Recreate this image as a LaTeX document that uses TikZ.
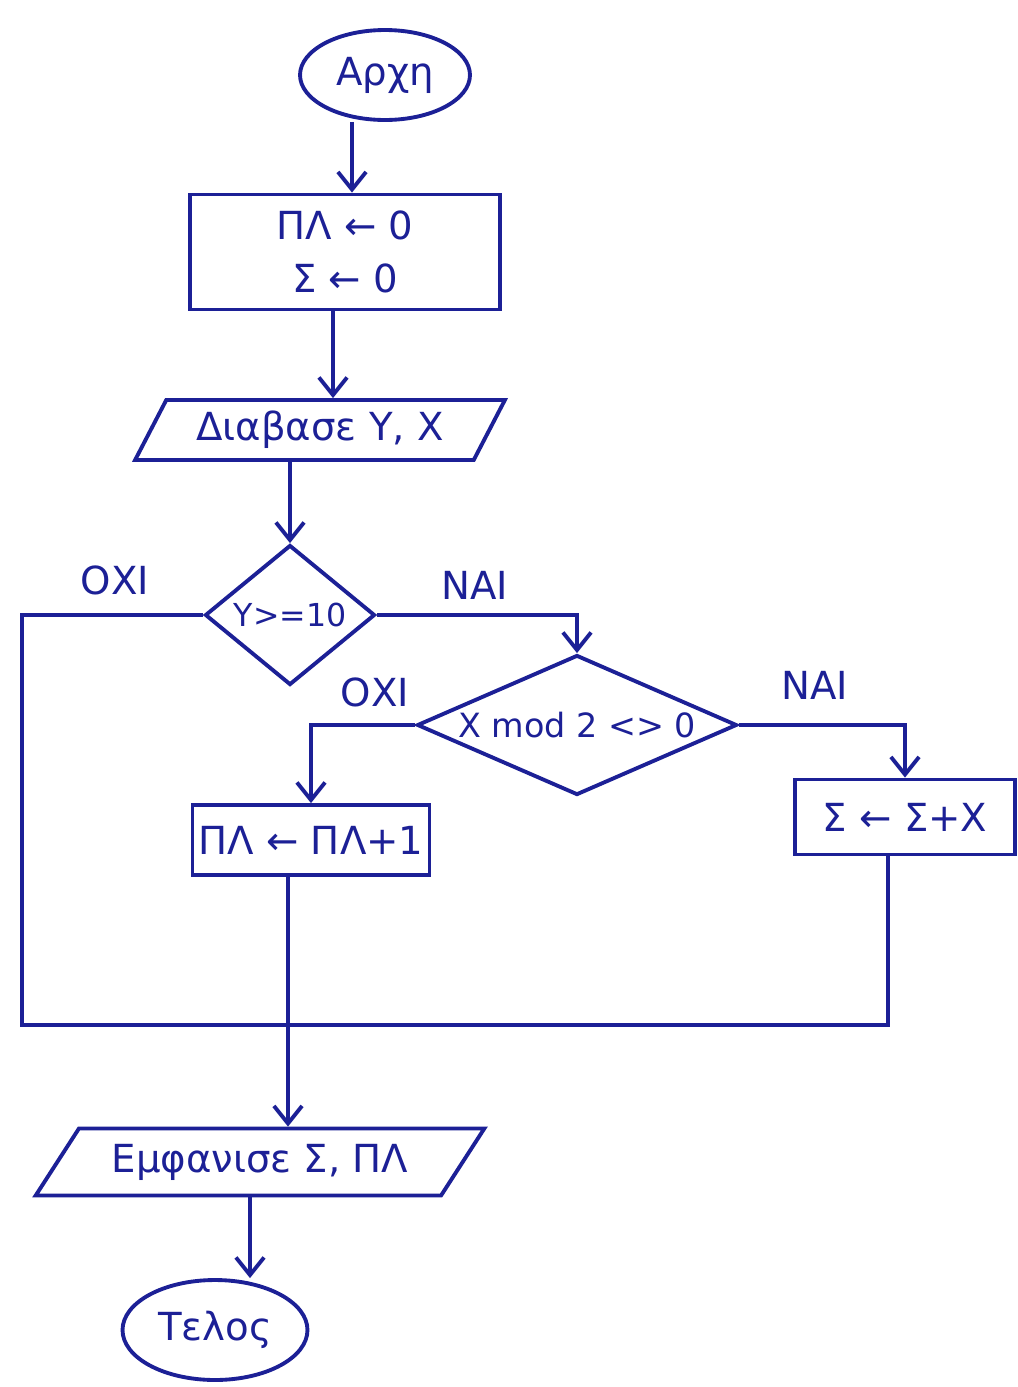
\documentclass[tikz,border=0pt]{standalone}
\usepackage{fontspec}
\setmainfont{DejaVu Sans}
\usetikzlibrary{shapes.geometric,arrows.meta}
\definecolor{ink}{RGB}{28,32,150}
\begin{document}
\begin{tikzpicture}[x=0.02cm,y=-0.02cm,
  box/.style={draw=ink, text=ink, line width=2.2pt, inner sep=2pt, font=\fontsize{22}{30}\selectfont},
  term/.style={box, ellipse},
  proc/.style={box, rectangle, align=center},
  io/.style={box, trapezium, trapezium stretches=true, trapezium left angle=60, trapezium right angle=120},
  dec/.style={box, diamond, inner sep=0pt},
  flow/.style={draw=ink, line width=2.2pt},
  arr/.style={flow, -{Straight Barb[length=10pt,width=16pt,line width=2.2pt]}},
  lbl/.style={text=ink, font=\fontsize{22}{30}\selectfont}]
\fill[white] (0,0) rectangle (1018,1387);
\useasboundingbox (0,0) rectangle (1018,1387);

% nodes
\node[term, minimum width=3.4cm, minimum height=1.8cm] (start) at (385,75) {Αρχη};
\node[proc, minimum width=6.2cm, minimum height=2.3cm] (init) at (345,252) {ΠΛ ← 0\\Σ ← 0};
\node[io, minimum width=7.4cm, minimum height=1.2cm] (read) at (320,430) {Διαβασε Y, X};
\node[dec, minimum width=3.4cm, minimum height=2.8cm] (d1) at (290,615) {\makebox[0pt]{\fontsize{18}{22}\selectfont Y>=10}};
\node[dec, minimum width=6.4cm, minimum height=2.8cm] (d2) at (577,725) {\makebox[0pt]{\fontsize{19}{24}\selectfont X mod 2 <> 0}};
\node[proc, minimum width=4.74cm, minimum height=1.4cm] (inc) at (311,840) {ΠΛ ← ΠΛ+1};
\node[proc, minimum width=4.4cm, minimum height=1.5cm] (add) at (905,817) {Σ ← Σ+X};
\node[io, minimum width=9cm, minimum height=1.34cm, trapezium left angle=50, trapezium right angle=130] (out) at (260,1162) {Εμφανισε Σ, ΠΛ};
\node[term, minimum width=3.7cm, minimum height=2cm] (end) at (215,1330) {Τελος};

% labels
\node[lbl] (l1) at (115,580) {ΟΧΙ};
\node[lbl] (l2) at (475,585) {ΝΑΙ};
\node[lbl] (l3) at (375,692) {ΟΧΙ};
\node[lbl] (l4) at (815,685) {ΝΑΙ};

% helper coordinates
\coordinate (x1) at (352,0);
\coordinate (x2) at (333,0);
\coordinate (L) at (22,1025);
\coordinate (J) at (288,1025);
\coordinate (R) at (888,1025);
\coordinate (x3) at (250,0);

% connectors
\draw[arr] (x1 |- start.south) -- (x1 |- init.north);
\draw[arr] (x2 |- init.south) -- (x2 |- read.north);
\draw[arr] (d1.north |- read.south) -- (d1.north);
\draw[flow] (d1.west) -| (L) -- (J);
\draw[arr] (d1.east) -| (d2.north);
\draw[arr] (d2.west) -| (inc.north);
\draw[arr] (d2.east) -| (add.north);
\draw[flow] (J |- inc.south) -- (J);
\draw[flow] (R |- add.south) -- (R) -- (J);
\draw[arr] (J) -- (J |- out.north);
\draw[arr] (x3 |- out.south) -- (x3 |- end.north);
\end{tikzpicture}
\end{document}
